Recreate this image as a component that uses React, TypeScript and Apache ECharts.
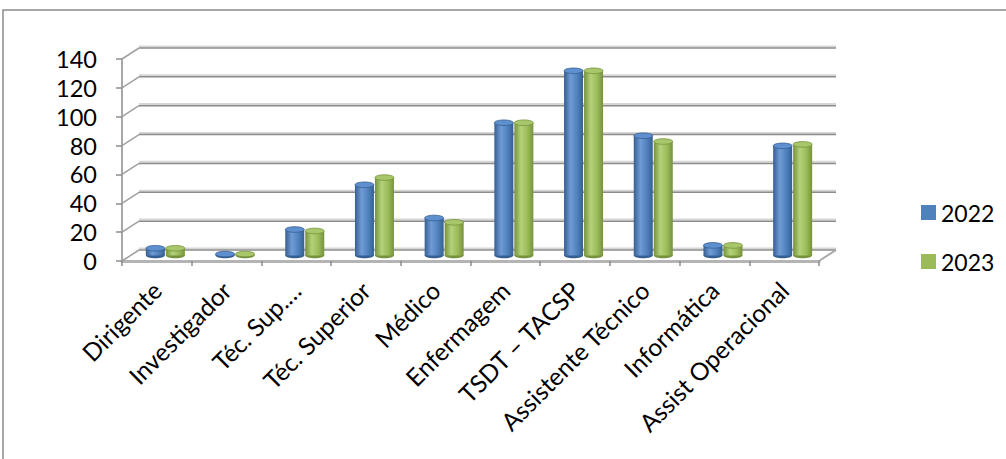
import React, { useEffect, useRef } from "react";
import * as echarts from "echarts";

const categories = [
  "Dirigente",
  "Investigador",
  "Téc. Sup.…",
  "Téc. Superior",
  "Médico",
  "Enfermagem",
  "TSDT – TACSP",
  "Assistente Técnico",
  "Informática",
  "Assist Operacional",
];
const values2022 = [5, 1, 18, 49, 26, 92, 128, 83, 7, 76];
const values2023 = [5, 1, 17, 54, 23, 92, 128, 79, 7, 77];
const yTicks = [0, 20, 40, 60, 80, 100, 120, 140];
const seriesNames = ["2022", "2023"];

const DX = 17;
const DY = -11;
const FONT = "Lato, 'Open Sans', sans-serif";

const palettes = [
  { base: "#4f81bd", dark: "#365f91", light: "#6f9bd6", top: "#5e8fcf" },
  { base: "#9bbb59", dark: "#76923c", light: "#b4d27a", top: "#a8c76a" },
];

function makeBarRenderer(side: number) {
  return (params: any, api: any) => {
    const i = api.value(0);
    const v = api.value(1);
    const top = api.coord([i, v]);
    const base = api.coord([i, 0]);
    const cx = top[0] + DX / 2;
    const w = 20;
    const left = side === 0 ? cx - w : cx;
    const yTop = top[1] + DY / 2;
    const yBot = base[1] + DY / 2;
    const rx = w / 2 - 0.5;
    const ry = 2.8;
    const p = palettes[side];
    const grad = new echarts.graphic.LinearGradient(0, 0, 1, 0, [
      { offset: 0, color: p.dark },
      { offset: 0.35, color: p.light },
      { offset: 0.7, color: p.base },
      { offset: 1, color: p.dark },
    ]);
    return {
      type: "group",
      children: [
        {
          type: "ellipse",
          shape: { cx: left + w / 2, cy: yBot, rx, ry },
          style: { fill: p.dark },
        },
        {
          type: "rect",
          shape: { x: left + 0.5, y: yTop, width: w - 1, height: Math.max(0, yBot - yTop) },
          style: { fill: grad },
        },
        {
          type: "ellipse",
          shape: { cx: left + w / 2, cy: yTop, rx, ry },
          style: { fill: p.top, stroke: p.dark, lineWidth: 0.8 },
        },
      ],
    };
  };
}

function decorRenderer(params: any, api: any) {
  const v = api.value(1);
  const cs = params.coordSys;
  const y = api.coord([0, v])[1];
  const x0 = cs.x;
  const x1 = cs.x + cs.width;
  const children: any[] = [
    {
      type: "line",
      shape: { x1: x0 + DX, y1: y + DY - 1.6, x2: x1 + DX, y2: y + DY - 1.6 },
      style: { stroke: "#d6d6d6", lineWidth: 2 },
    },
    {
      type: "line",
      shape: { x1: x0 + DX, y1: y + DY, x2: x1 + DX, y2: y + DY },
      style: { stroke: "#8c8c8c", lineWidth: 1.5 },
    },
    {
      type: "line",
      shape: { x1: x0, y1: y, x2: x0 + DX, y2: y + DY },
      style: { stroke: "#a0a0a0", lineWidth: 1.5 },
    },
  ];
  if (v === 0) {
    children.push({
      type: "line",
      shape: { x1: x1, y1: y, x2: x1 + DX, y2: y + DY },
      style: { stroke: "#a8a8a8", lineWidth: 2 },
    });
  }
  return { type: "group", children };
}

export default function App() {
  const ref = useRef<HTMLDivElement>(null);
  useEffect(() => {
    if (!ref.current) return;
    const chart = echarts.init(ref.current, undefined, { renderer: "svg" });
    chart.setOption({
      animation: false,
      backgroundColor: "#ffffff",
      graphic: [
        {
          type: "rect",
          shape: { x: 3, y: 10, width: 1200, height: 600 },
          style: { fill: "none", stroke: "#8a8a8a", lineWidth: 1.5 },
          z: -10,
        },
      ],
      grid: { left: 122, right: 187, top: 59, bottom: 198, containLabel: false },
      legend: {
        data: seriesNames,
        orient: "vertical",
        left: 916,
        top: 196,
        itemWidth: 15,
        itemHeight: 15,
        itemGap: 26,
        icon: "rect",
        textStyle: {
          fontFamily: FONT,
          fontSize: 23,
          color: "#000",
          padding: [0, 0, 0, 0],
        },
      },
      xAxis: {
        type: "category",
        data: categories,
        axisLine: { show: true, lineStyle: { color: "#b4b4b4", width: 3 } },
        axisTick: { show: true, length: 5, interval: 0, lineStyle: { color: "#8c8c8c", width: 1.5 } },
        axisLabel: {
          interval: 0,
          rotate: 45,
          margin: 25,
          fontFamily: FONT,
          fontSize: 24.5,
          color: "#000",
        },
        splitLine: { show: false },
      },
      yAxis: {
        type: "value",
        min: 0,
        max: 140,
        interval: 20,
        axisLine: { show: true, lineStyle: { color: "#a8a8a8", width: 2 } },
        axisTick: { show: true, length: 6, lineStyle: { color: "#8c8c8c", width: 1.5 } },
        axisLabel: { margin: 25, fontFamily: FONT, fontSize: 23.5, color: "#000" },
        splitLine: { show: false },
      },
      series: [
        {
          type: "custom",
          name: "decor",
          renderItem: decorRenderer,
          data: yTicks.map((v) => [0, v]),
          encode: { x: 0, y: 1 },
          silent: true,
          z: 1,
        },
        {
          type: "custom",
          name: seriesNames[0],
          renderItem: makeBarRenderer(0),
          data: values2022.map((v, i) => [i, v]),
          encode: { x: 0, y: 1 },
          itemStyle: { color: palettes[0].base },
          z: 3,
        },
        {
          type: "custom",
          name: seriesNames[1],
          renderItem: makeBarRenderer(1),
          data: values2023.map((v, i) => [i, v]),
          encode: { x: 0, y: 1 },
          itemStyle: { color: palettes[1].base },
          z: 3,
        },
      ],
    });
    return () => chart.dispose();
  }, []);
  return (
    <div
      ref={ref}
      style={{ position: "fixed", left: 0, top: 0, width: 1006, height: 459 }}
    />
  );
}
